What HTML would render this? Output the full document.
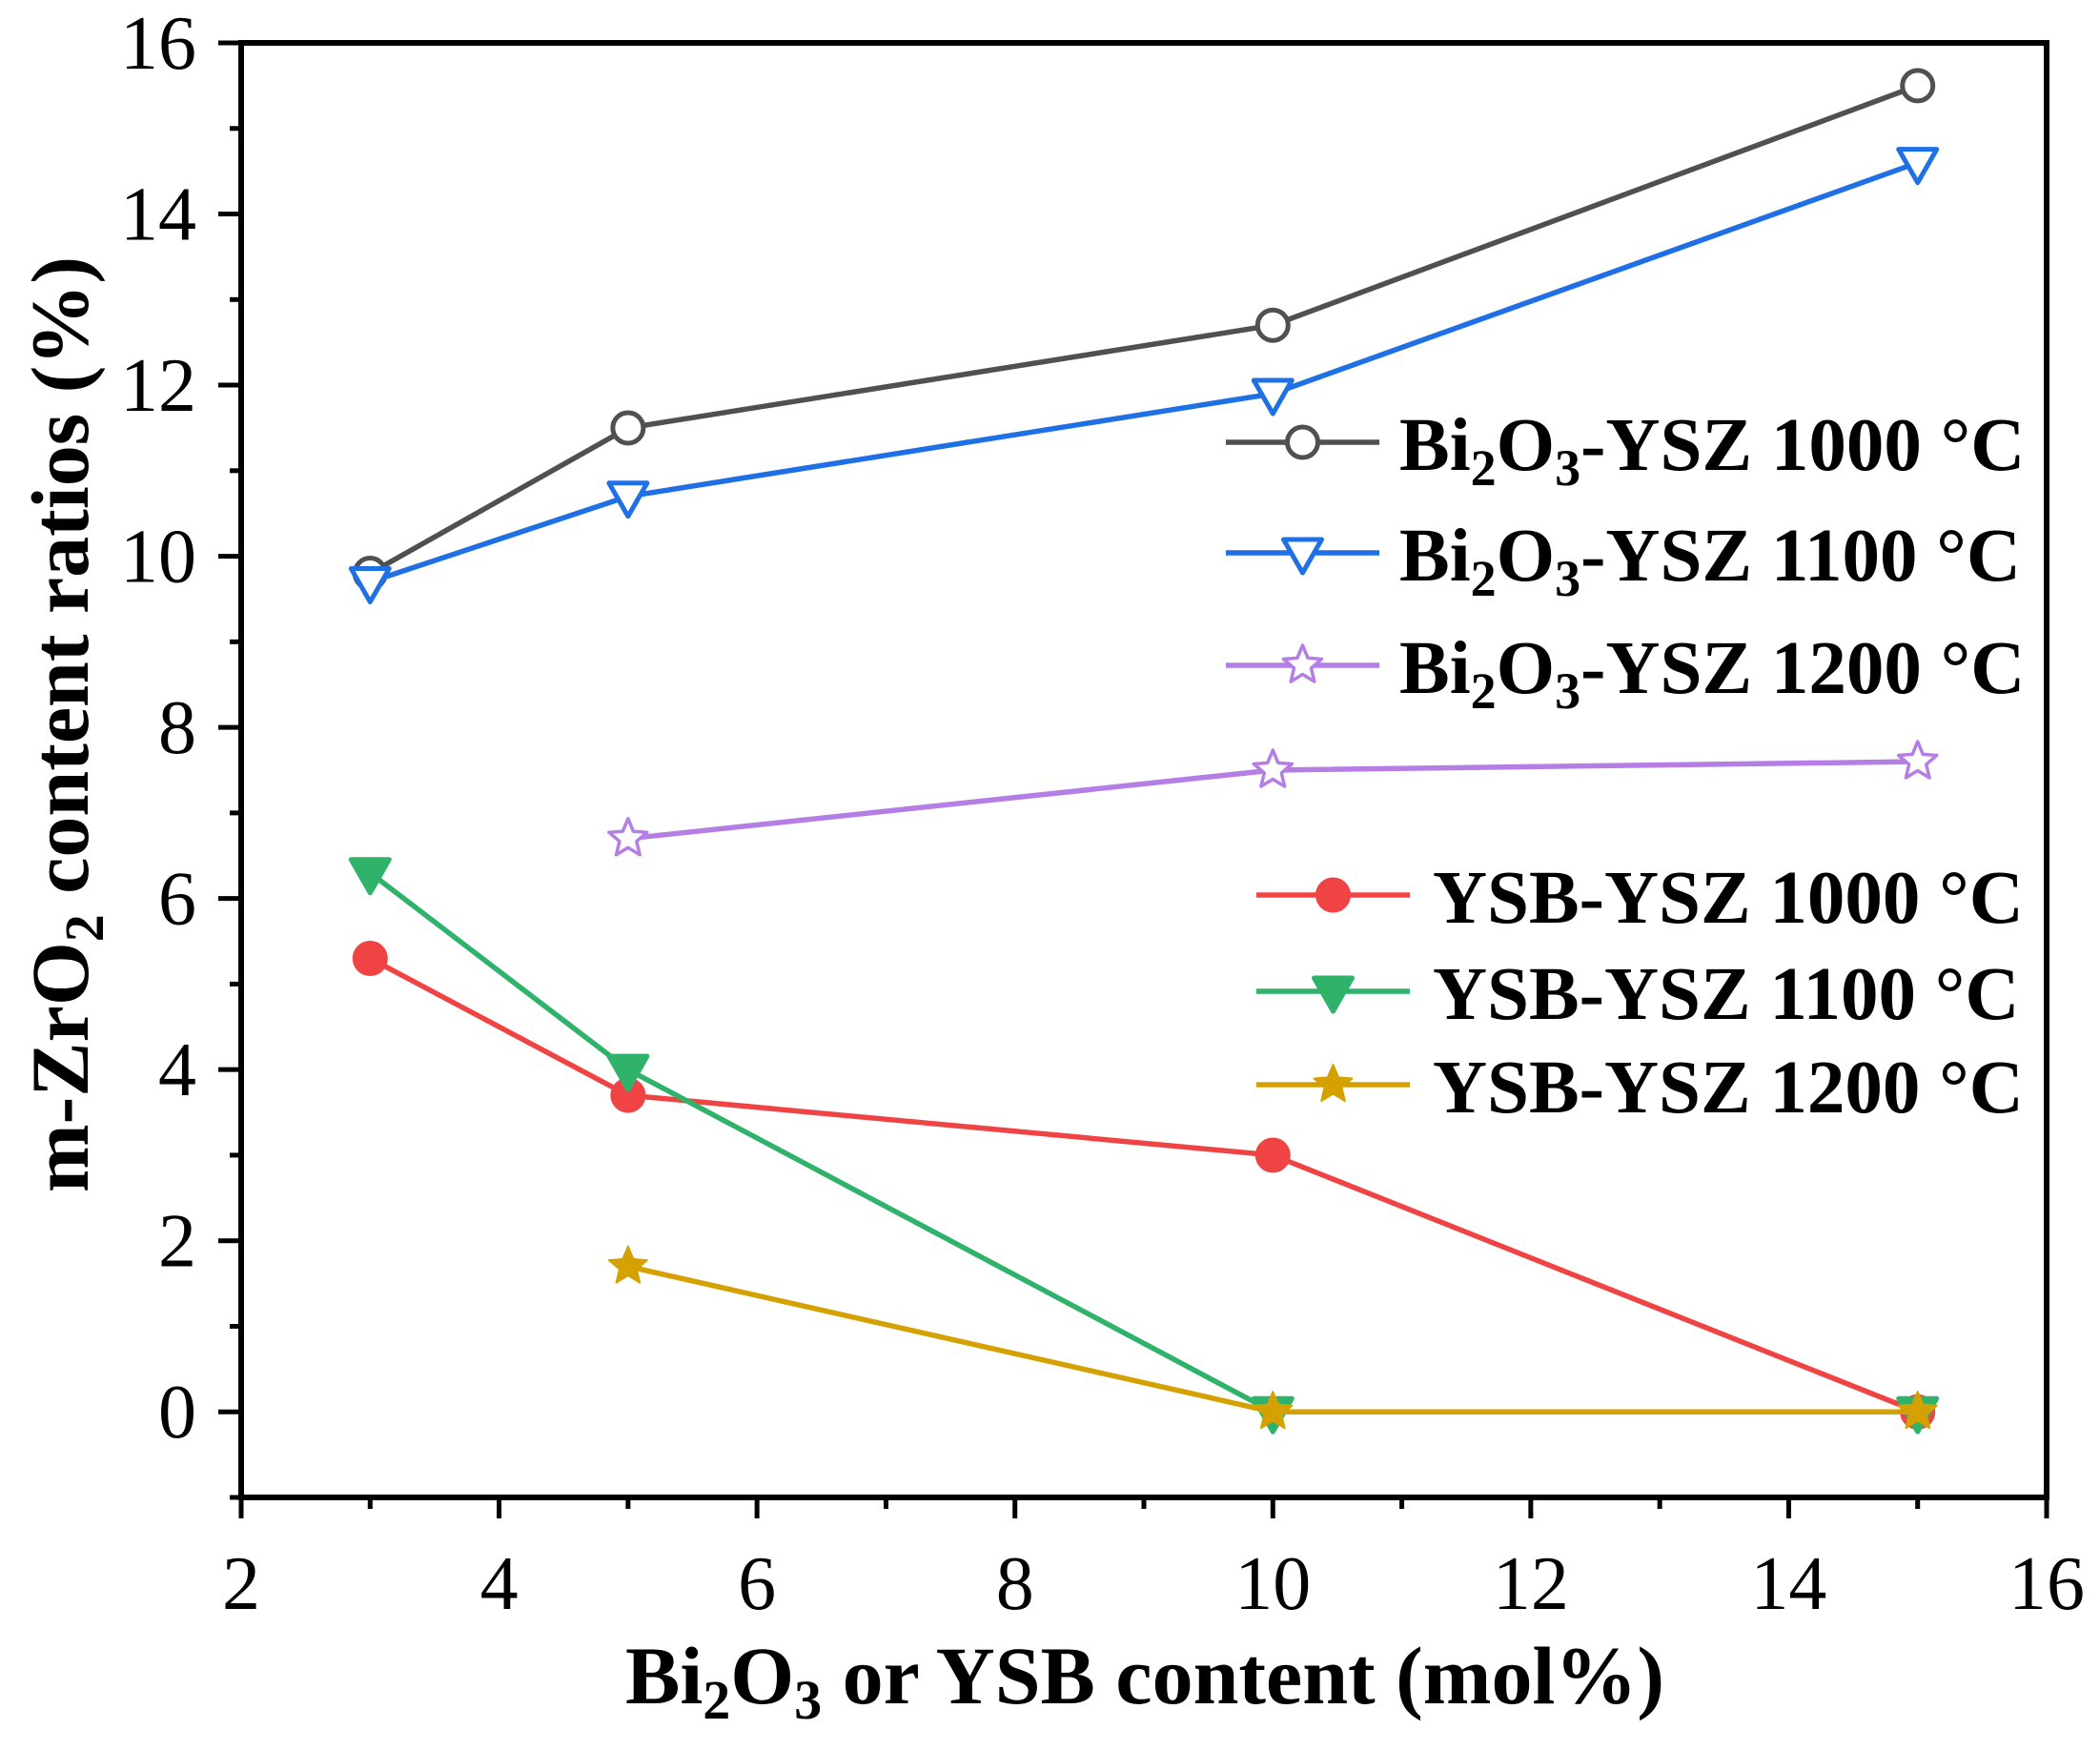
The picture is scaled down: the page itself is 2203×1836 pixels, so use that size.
<!DOCTYPE html>
<html><head><meta charset="utf-8"><style>
html,body{margin:0;padding:0;background:#fff;}
svg{display:block;font-family:"Liberation Serif",serif;}
</style></head><body>
<svg id="chart" width="2203" height="1836" viewBox="0 0 2203 1836">
<g id="plot"></g>
<text x="1201" y="1787" font-size="86" font-weight="bold" text-anchor="middle">Bi<tspan font-size="58" dy="16">2</tspan><tspan dy="-16">O</tspan><tspan font-size="58" dy="16">3</tspan><tspan dy="-16"> or YSB content (mol%)</tspan></text>
<text transform="translate(92,760) rotate(-90)" font-size="86" font-weight="bold" text-anchor="middle">m-ZrO<tspan font-size="58" dy="16">2</tspan><tspan dy="-16"> content ratios (%)</tspan></text>
</svg>
<script>
const xs = [3, 5, 10, 15];
const bi1000 = [9.8, 11.5, 12.7, 15.5];
const bi1100 = [9.7, 10.7, 11.9, 14.6];
const bi1200 = [null, 6.7, 7.5, 7.6];
const ysb1000 = [5.3, 3.7, 3.0, 0];
const ysb1100 = [6.3, 4.0, 0, 0];
const ysb1200 = [null, 1.7, 0, 0];
const xTicks = [2, 4, 6, 8, 10, 12, 14, 16];
const yTicks = [0, 2, 4, 6, 8, 10, 12, 14, 16];

const L=253, R=2147, T=45, B=1571;
const xMin=2, xMax=16, yMin=-1, yMax=16;
const sx = v => L + (v - xMin) / (xMax - xMin) * (R - L);
const sy = v => B - (v - yMin) / (yMax - yMin) * (B - T);
const NS = "http://www.w3.org/2000/svg";
const g = document.getElementById('plot');
function mk(tag, attrs, parent){ const e=document.createElementNS(NS,tag); for(const k in attrs) e.setAttribute(k,attrs[k]); (parent||g).appendChild(e); return e; }

for (let v = xMin; v <= xMax; v++) {
  const major = v % 2 === 0;
  const t = mk('line',{x1:sx(v),x2:sx(v),y1:B,y2:B+(major?22:12),stroke:'#000','stroke-width':5});
  
  
}
for (let v = yMin; v <= yMax; v++) {
  const major = v % 2 === 0;
  const t = mk('line',{x1:L,x2:L-(major?24:12),y1:sy(v),y2:sy(v),stroke:'#000','stroke-width':5});
  
  
}
xTicks.forEach(v => {
  const t = mk('text',{x:sx(v),y:1688,'font-size':80,'text-anchor':'middle'});
  t.textContent = v;
  
  
});
yTicks.forEach(v => {
  const t = mk('text',{x:206,y:sy(v)+27,'font-size':80,'text-anchor':'end'});
  t.textContent = v;
  
  
});
const frame = mk('rect',{x:L,y:T,width:R-L,height:B-T,fill:'none',stroke:'#000','stroke-width':6});



function starPts(cx, cy, r){ let p=[]; for(let i=0;i<10;i++){ const a=-Math.PI/2+i*Math.PI/5; const rr=i%2?r*0.45:r; p.push((cx+rr*Math.cos(a)).toFixed(1)+','+(cy+rr*Math.sin(a)).toFixed(1)); } return p.join(' '); }
function marker(type, cx, cy, color, filled, parent){
  const fill = filled ? color : '#fff';
  if (type === 'circle') return mk('circle',{cx,cy,r:16,fill,stroke:color,'stroke-width':5},parent);
  if (type === 'tri') return mk('polygon',{points:`${cx-20},${cy-14} ${cx+20},${cy-14} ${cx},${cy+21}`,fill,stroke:color,'stroke-width':5,'stroke-linejoin':'round'},parent);
  return mk('polygon',{points:starPts(cx,cy,21),fill,stroke:color,'stroke-width':filled?2:3.5,'stroke-linejoin':'round'},parent);
}
const series = [
  {name:'bi-ysz-1000', vals:bi1000, color:'#505050', type:'circle', filled:false},
  {name:'bi-ysz-1100', vals:bi1100, color:'#1f6fe5', type:'tri', filled:false},
  {name:'bi-ysz-1200', vals:bi1200, color:'#b47ee5', type:'star', filled:false},
  {name:'ysb-ysz-1000', vals:ysb1000, color:'#f04444', type:'circle', filled:true},
  {name:'ysb-ysz-1100', vals:ysb1100, color:'#2fb36b', type:'tri', filled:true},
  {name:'ysb-ysz-1200', vals:ysb1200, color:'#d4a100', type:'star', filled:true}
];
series.forEach(s => {
  const grp = mk('g',{});
  
  
  const pts = [];
  xs.forEach((x,i) => { if (s.vals[i] !== null) pts.push([sx(x), sy(s.vals[i])]); });
  const line = mk('polyline',{points:pts.map(p=>p.join(',')).join(' '),fill:'none',stroke:s.color,'stroke-width':5.5},grp);
  
  
  pts.forEach(p => {
    const m = marker(s.type, p[0], p[1], s.color, s.filled, grp);
    
    
  });
});

const legendItems = [
  {label:'bi', temp:'1000', y:464, x1:1286, x2:1447, tx:1468, s:0},
  {label:'bi', temp:'1100', y:580, x1:1286, x2:1447, tx:1468, s:1},
  {label:'bi', temp:'1200', y:698, x1:1286, x2:1447, tx:1468, s:2},
  {label:'ysb', temp:'1000', y:939, x1:1318, x2:1479, tx:1503, s:3},
  {label:'ysb', temp:'1100', y:1040, x1:1318, x2:1479, tx:1503, s:4},
  {label:'ysb', temp:'1200', y:1138, x1:1318, x2:1479, tx:1503, s:5}
];
legendItems.forEach(it => {
  const s = series[it.s];
  const grp = mk('g',{});
  
  
  mk('line',{x1:it.x1,x2:it.x2,y1:it.y,y2:it.y,stroke:s.color,'stroke-width':5.5},grp);
  marker(s.type,(it.x1+it.x2)/2,it.y,s.color,s.filled,grp);
  const t = mk('text',{x:it.tx,y:it.y+29,'font-size':79,'font-weight':'bold'},grp);
  if (it.label === 'bi') {
    t.innerHTML = 'Bi<tspan font-size="54" dy="16">2</tspan><tspan dy="-16">O</tspan><tspan font-size="54" dy="16">3</tspan><tspan dy="-16">-YSZ ' + it.temp + ' °C</tspan>';
  } else {
    t.textContent = 'YSB-YSZ ' + it.temp + ' °C';
  }
});
</script>
</body></html>
